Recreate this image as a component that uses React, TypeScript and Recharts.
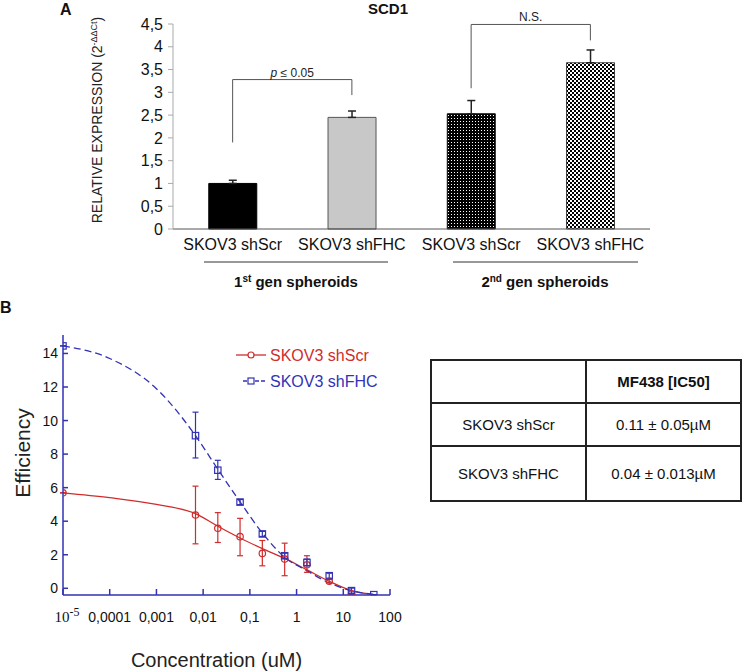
import React from "react";
import {
  Bar,
  BarChart,
  Cell,
  ComposedChart,
  ErrorBar,
  Label,
  Line,
  ReferenceLine,
  Scatter,
  XAxis,
  YAxis,
} from "recharts";

const FONT = '"Liberation Sans", Arial, Helvetica, sans-serif';
const RED = "#d02c2c";
const BLUE = "#3232b4";

// panel A: SCD1 relative expression
const groupIds = ["scr1", "fhc1", "scr2", "fhc2"];
const groupNames = ["SKOV3 shScr", "SKOV3 shFHC", "SKOV3 shScr", "SKOV3 shFHC"];
const relExpression = [1.0, 2.45, 2.53, 3.65];
const relExpressionSd = [0.07, 0.14, 0.29, 0.28];
const expressionTicks = [0, 0.5, 1, 1.5, 2, 2.5, 3, 3.5, 4, 4.5];

// panel B: dose response
const doses = [0.00001, 0.00686, 0.0206, 0.0617, 0.185, 0.556, 1.667, 5, 15, 45];
const scrEff = [5.69, 4.37, 3.58, 3.08, 2.08, 1.74, 1.4, 0.42, -0.34];
const scrErrLow = [0, 1.72, 0.85, 1.14, 0.74, 0.99, 0.45, 0.1, 0];
const scrErrHigh = [0, 1.72, 0.93, 1.09, 0.77, 0.95, 0.54, 0.1, 0];
const fhcEff = [14.45, 9.1, 7.04, 5.14, 3.24, 1.94, 1.54, 0.75, -0.14, -0.38];
const fhcErrLow = [0, 1.33, 0.55, 0.15, 0.15, 0.15, 0.2, 0.15, 0.15, 0];
const fhcErrHigh = [0, 1.4, 0.59, 0.15, 0.15, 0.15, 0.2, 0.15, 0.15, 0];

// fitted curves
const fitConc = [0.00001, 0.0001, 0.001, 0.00686, 0.0206, 0.0617, 0.185, 0.556, 1.667, 5, 15, 45];
const scrFit = [5.69, 5.4, 5.0, 4.45, 3.7, 3.0, 2.37, 1.78, 1.1, 0.42, -0.14, -0.38];
const fhcFit = [14.45, 13.7, 11.9, 9.1, 7.1, 5.15, 3.3, 1.85, 1.05, 0.32, -0.14, -0.36];

const concTicks = [0.00001, 0.0001, 0.001, 0.01, 0.1, 1, 10, 100];
const concTickLabels = ["10-5", "0,0001", "0,001", "0,01", "0,1", "1", "10", "100"];
const effTicks = [0, 2, 4, 6, 8, 10, 12, 14];

// IC50 table
const tableRows = [
  ["SKOV3 shScr", "0.11 ± 0.05µM"],
  ["SKOV3 shFHC", "0.04 ± 0.013µM"],
];

const barData = groupIds.map((id, i) => ({
  id,
  value: relExpression[i],
  sd: [0, relExpressionSd[i]],
}));
const barFills = ["#000000", "#c8c8c8", "url(#dotFill)", "url(#checkFill)"];
const barStrokes = ["#000000", "#555555", "#111111", "#444444"];

const scrPoints = scrEff.map((y, i) => ({ x: doses[i], y, err: [scrErrLow[i], scrErrHigh[i]] }));
const fhcPoints = fhcEff.map((y, i) => ({ x: doses[i], y, err: [fhcErrLow[i], fhcErrHigh[i]] }));
const scrCurve = fitConc.map((x, i) => ({ x, y: scrFit[i] }));
const fhcCurve = fitConc.map((x, i) => ({ x, y: fhcFit[i] }));

function BracketLabel(props: any) {
  const { viewBox, italicP } = props;
  const cx = viewBox.x + viewBox.width / 2;
  return (
    <text x={cx} y={viewBox.y - 3} textAnchor="middle" fontSize={12} fontFamily={FONT} fill="#222">
      {italicP ? (
        <>
          <tspan fontStyle="italic">p</tspan>
          <tspan> ≤ 0.05</tspan>
        </>
      ) : (
        "N.S."
      )}
    </text>
  );
}

function ExpressionLabel() {
  return (
    <text
      x={102}
      y={120}
      transform="rotate(-90, 102, 120)"
      textAnchor="middle"
      fontSize={14}
      fontFamily={FONT}
      fill="#222"
    >
      RELATIVE EXPRESSION (2
      <tspan dy={-5} fontSize={9}>
        -ΔΔCt
      </tspan>
      <tspan dy={5}>)</tspan>
    </text>
  );
}

function ConcTick(props: any) {
  const { x, y, payload } = props;
  const idx = concTicks.indexOf(payload.value);
  const label = concTickLabels[idx];
  if (idx === 0) {
    return (
      <text x={x + 4} y={y + 20} textAnchor="middle" fontSize={15} fontFamily="'Liberation Serif', 'Times New Roman', serif" fill="#111">
        10
        <tspan dy={-6} fontSize={12}>
          -5
        </tspan>
      </text>
    );
  }
  return (
    <text x={x} y={y + 20} textAnchor="middle" fontSize={14} fontFamily={FONT} fill="#111">
      {label}
    </text>
  );
}

function PanelA() {
  return (
    <BarChart
      width={742}
      height={300}
      data={barData}
      margin={{ top: 24, right: 92, bottom: 41, left: 113 }}
      barCategoryGap="30%"
    >
      <XAxis
        dataKey="id"
        height={30}
        tickLine={false}
        axisLine={{ stroke: "#555" }}
        tickMargin={4}
        tick={{ fontSize: 16, fontFamily: FONT, fill: "#111" }}
        tickFormatter={(_v: any, i: number) => groupNames[i]}
      />
      <YAxis
        width={60}
        domain={[0, 4.5]}
        ticks={expressionTicks}
        interval={0}
        axisLine={{ stroke: "#aaa" }}
        tickLine={{ stroke: "#aaa" }}
        tickSize={5}
        tickMargin={5}
        tick={{ fontSize: 16, fontFamily: FONT, fill: "#111" }}
        tickFormatter={(v: number) => String(v).replace(".", ",")}
      >
        <Label content={<ExpressionLabel />} />
      </YAxis>
      <Bar dataKey="value" isAnimationActive={false}>
        {barData.map((_, i) => (
          <Cell key={i} fill={barFills[i]} stroke={barStrokes[i]} strokeWidth={1} />
        ))}
        <ErrorBar dataKey="sd" width={4} stroke="#222" strokeWidth={1.5} />
      </Bar>
      <ReferenceLine segment={[{ x: "scr1", y: 3.28 }, { x: "fhc1", y: 3.28 }]} stroke="#555" label={<BracketLabel italicP />} />
      <ReferenceLine segment={[{ x: "scr1", y: 1.9 }, { x: "scr1", y: 3.28 }]} stroke="#555" />
      <ReferenceLine segment={[{ x: "fhc1", y: 2.94 }, { x: "fhc1", y: 3.28 }]} stroke="#555" />
      <ReferenceLine segment={[{ x: "scr2", y: 4.49 }, { x: "fhc2", y: 4.49 }]} stroke="#555" label={<BracketLabel />} />
      <ReferenceLine segment={[{ x: "scr2", y: 3.09 }, { x: "scr2", y: 4.49 }]} stroke="#555" />
      <ReferenceLine segment={[{ x: "fhc2", y: 4.14 }, { x: "fhc2", y: 4.49 }]} stroke="#555" />
    </BarChart>
  );
}

function PanelB() {
  return (
    <ComposedChart width={420} height={351} margin={{ top: 15, right: 30, bottom: 46, left: 23 }}>
      <XAxis
        type="number"
        dataKey="x"
        scale="log"
        domain={[0.00001, 100]}
        ticks={concTicks}
        interval={0}
        allowDataOverflow
        height={30}
        axisLine={{ stroke: BLUE, strokeWidth: 1.5 }}
        tickLine={{ stroke: BLUE, strokeWidth: 1.5 }}
        tickSize={-6}
        tickMargin={13}
        tick={<ConcTick />}
      >
        <Label
          content={(p: any) => (
            <text
              x={p.viewBox.x + p.viewBox.width / 2 - 10}
              y={p.viewBox.y + 72}
              textAnchor="middle"
              fontSize={20}
              fontFamily={FONT}
              fill="#222"
            >
              Concentration (uM)
            </text>
          )}
        />
      </XAxis>
      <YAxis
        type="number"
        dataKey="y"
        domain={[-0.4, 15.1]}
        ticks={effTicks}
        interval={0}
        allowDataOverflow
        width={40}
        axisLine={{ stroke: BLUE, strokeWidth: 1.5 }}
        tickLine={{ stroke: BLUE, strokeWidth: 1.5 }}
        tickSize={-5}
        tickMargin={10}
        tick={{ fontSize: 14, fontFamily: FONT, fill: "#111" }}
      >
        <Label
          content={(p: any) => {
            const cx = p.viewBox.x + 7;
            const cy = p.viewBox.y + p.viewBox.height / 2 - 12;
            return (
              <text
                x={cx}
                y={cy}
                transform={`rotate(-90, ${cx}, ${cy})`}
                textAnchor="middle"
                fontSize={21}
                fontFamily={FONT}
                fill="#222"
              >
                Efficiency
              </text>
            );
          }}
        />
      </YAxis>
      <Line
        data={scrCurve}
        dataKey="y"
        type="monotone"
        stroke={RED}
        strokeWidth={1.3}
        dot={false}
        isAnimationActive={false}
      />
      <Line
        data={fhcCurve}
        dataKey="y"
        type="monotone"
        stroke={BLUE}
        strokeWidth={1.3}
        strokeDasharray="7 4"
        dot={false}
        isAnimationActive={false}
      />
      <Scatter
        data={scrPoints}
        isAnimationActive={false}
        shape={(p: any) => <circle cx={p.cx} cy={p.cy} r={3.2} fill="none" stroke={RED} strokeWidth={1.2} />}
      >
        <ErrorBar dataKey="err" direction="y" width={3} stroke={RED} strokeWidth={1.2} />
      </Scatter>
      <Scatter
        data={fhcPoints}
        isAnimationActive={false}
        shape={(p: any) => (
          <rect x={p.cx - 3.2} y={p.cy - 3.2} width={6.4} height={6.4} fill="none" stroke={BLUE} strokeWidth={1.2} />
        )}
      >
        <ErrorBar dataKey="err" direction="y" width={3} stroke={BLUE} strokeWidth={1.2} />
      </Scatter>
    </ComposedChart>
  );
}

const cellStyle: React.CSSProperties = {
  border: "2px solid #222",
  textAlign: "center",
  verticalAlign: "middle",
  padding: 0,
  fontSize: 15,
  fontFamily: FONT,
  color: "#111",
};

export default function App() {
  return (
    <div
      style={{
        position: "absolute",
        left: 0,
        top: 0,
        width: 742,
        height: 671,
        background: "#fff",
        fontFamily: FONT,
        overflow: "hidden",
      }}
    >
      <svg width={0} height={0} style={{ position: "absolute" }}>
        <defs>
          <pattern id="dotFill" width={3} height={3} patternUnits="userSpaceOnUse">
            <rect width={3} height={3} fill="#000" />
            <rect x={1} y={1} width={1} height={1} fill="#fff" />
          </pattern>
          <pattern id="checkFill" width={4} height={4} patternUnits="userSpaceOnUse">
            <rect width={4} height={4} fill="#fff" />
            <rect width={2} height={2} fill="#000" />
            <rect x={2} y={2} width={2} height={2} fill="#000" />
          </pattern>
        </defs>
      </svg>

      <div style={{ position: "absolute", left: 0, top: 0 }}>
        <PanelA />
      </div>
      <div style={{ position: "absolute", left: 0, top: 320 }}>
        <PanelB />
      </div>

      <svg width={742} height={671} style={{ position: "absolute", left: 0, top: 0, pointerEvents: "none" }}>
        <text x={60} y={15} fontSize={16} fontWeight="bold" fontFamily={FONT} fill="#111">
          A
        </text>
        <text x={388} y={14} fontSize={15} fontWeight="bold" textAnchor="middle" fontFamily={FONT} fill="#111">
          SCD1
        </text>
        <text x={0} y={313} fontSize={16} fontWeight="bold" fontFamily={FONT} fill="#111">
          B
        </text>

        <line x1={204} y1={262} x2={388} y2={262} stroke="#333" strokeWidth={1} />
        <line x1={453} y1={262} x2={638} y2={262} stroke="#333" strokeWidth={1} />
        <text x={296} y={287} textAnchor="middle" fontSize={15} fontWeight="bold" fontFamily={FONT} fill="#111">
          1
          <tspan dy={-5} fontSize={10}>
            st
          </tspan>
          <tspan dy={5}> gen spheroids</tspan>
        </text>
        <text x={545} y={287} textAnchor="middle" fontSize={15} fontWeight="bold" fontFamily={FONT} fill="#111">
          2
          <tspan dy={-5} fontSize={10}>
            nd
          </tspan>
          <tspan dy={5}> gen spheroids</tspan>
        </text>

        <line x1={236} y1={355} x2={266} y2={355} stroke={RED} strokeWidth={1.3} />
        <circle cx={251} cy={355} r={3} fill="#fff" stroke={RED} strokeWidth={1.2} />
        <text x={270} y={361} fontSize={16} fontFamily={FONT} fill={RED}>
          SKOV3 shScr
        </text>
        <line x1={243} y1={381} x2={266} y2={381} stroke={BLUE} strokeWidth={1.3} strokeDasharray="4 2" />
        <rect x={248} y={378} width={6} height={6} fill="#fff" stroke={BLUE} strokeWidth={1.2} />
        <text x={270} y={387} fontSize={16} fontFamily={FONT} fill={BLUE}>
          SKOV3 shFHC
        </text>
      </svg>

      <table
        style={{
          position: "absolute",
          left: 430,
          top: 359,
          width: 312,
          height: 141,
          borderCollapse: "collapse",
        }}
      >
        <tbody>
          <tr style={{ height: 43 }}>
            <td style={{ ...cellStyle, width: 153 }}></td>
            <td style={{ ...cellStyle, fontWeight: "bold" }}>MF438 [IC50]</td>
          </tr>
          {tableRows.map((row, i) => (
            <tr key={i} style={{ height: i === 0 ? 43 : 55 }}>
              <td style={cellStyle}>{row[0]}</td>
              <td style={cellStyle}>{row[1]}</td>
            </tr>
          ))}
        </tbody>
      </table>
    </div>
  );
}
